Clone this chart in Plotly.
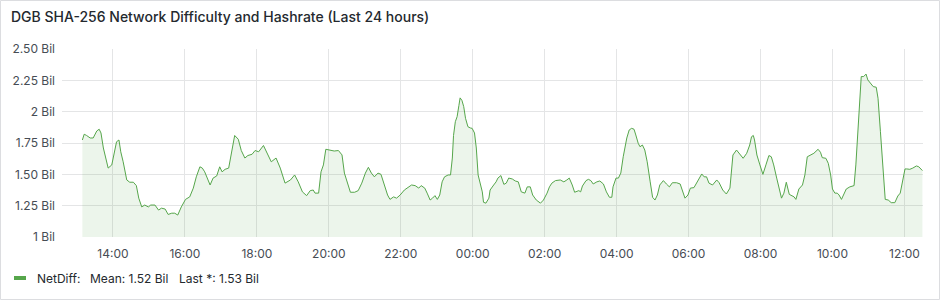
import plotly.graph_objects as go
import pandas as pd

# ---------------- data ----------------
times = [
"13:09","13:12","13:16","13:22","13:27","13:33","13:37","13:40","13:44","13:48","13:52","13:58",
"14:02","14:06","14:10","14:13","14:17","14:23","14:28","14:34","14:39","14:43","14:48","14:53","14:59",
"15:03","15:10","15:16","15:21","15:27","15:32","15:38","15:43","15:48","15:54",
"16:01","16:08","16:14","16:19","16:25","16:29","16:33","16:42","16:47","16:53","16:58",
"17:02","17:07","17:13","17:18","17:23","17:29","17:34","17:40","17:45","17:52","17:57",
"18:03","18:07","18:11","18:17","18:24","18:32","18:39","18:47","18:56",
"19:03","19:09","19:16","19:23","19:29","19:34","19:37","19:43","19:47","19:51","19:55",
"20:02","20:09","20:16","20:22","20:26","20:30","20:36","20:43","20:49","20:55",
"21:01","21:06","21:11","21:16","21:22","21:27","21:33","21:38","21:42","21:48","21:53","21:59",
"22:06","22:13","22:18","22:24","22:30","22:34","22:40","22:44","22:49","22:53","22:57",
"23:01","23:05","23:09","23:13","23:19","23:23","23:26","23:28","23:31","23:34","23:37","23:39",
"23:42","23:45","23:48","23:52","23:56","23:59",
"00:03","00:06","00:09","00:13","00:16","00:18","00:22","00:27","00:29","00:35","00:39","00:42",
"00:47","00:52","00:56",
"01:00","01:06","01:11","01:16","01:21","01:27","01:31","01:36","01:40","01:46","01:53","01:58",
"02:04","02:08","02:12","02:18","02:26","02:32","02:37","02:41","02:46","02:50","02:57",
"03:00","03:03","03:09","03:13","03:17","03:21","03:27","03:32","03:38","03:43","03:48","03:52",
"03:54","03:59",
"04:03","04:07","04:11","04:17","04:21","04:25","04:29","04:32","04:36","04:39","04:43","04:47",
"04:51","04:56",
"05:00","05:04","05:08","05:12","05:18","05:23","05:28","05:33","05:40","05:46","05:50","05:54","05:59",
"06:03","06:09","06:14","06:22","06:26","06:30","06:34","06:40","06:47","06:51","06:57",
"07:03","07:09","07:14","07:20","07:24","07:31","07:37","07:42","07:45","07:48","07:50","07:54","07:59",
"08:04","08:09","08:14","08:18","08:22","08:27","08:29","08:35","08:39","08:43","08:48","08:52",
"08:56","08:59",
"09:04","09:10","09:14","09:18","09:22","09:29","09:36","09:40","09:43","09:49","09:53","09:57",
"10:00","10:04","10:08","10:11","10:15","10:19","10:23","10:29","10:36","10:39","10:43","10:46",
"10:48","10:52","10:56","10:59",
"11:03","11:08","11:13","11:16","11:20","11:24","11:28","11:33","11:38","11:44","11:49","11:53","11:57",
"12:01","12:04","12:09","12:14","12:20","12:24","12:30",
]

net_diff_bil = [
1.774,1.82,1.81,1.79,1.79,1.846,1.86,1.83,1.71,1.64,1.55,1.575,
1.67,1.76,1.774,1.68,1.60,1.455,1.437,1.437,1.41,1.31,1.24,1.255,1.24,
1.255,1.255,1.215,1.23,1.223,1.18,1.19,1.19,1.175,1.24,
1.30,1.32,1.39,1.48,1.56,1.55,1.52,1.415,1.47,1.487,1.56,
1.52,1.54,1.55,1.67,1.81,1.78,1.69,1.63,1.65,1.66,1.69,
1.68,1.71,1.73,1.67,1.60,1.63,1.55,1.43,1.455,
1.495,1.44,1.36,1.33,1.37,1.375,1.35,1.35,1.52,1.575,1.70,
1.69,1.686,1.69,1.655,1.51,1.455,1.357,1.357,1.37,1.43,
1.51,1.556,1.51,1.48,1.51,1.50,1.415,1.335,1.30,1.32,1.31,1.335,
1.375,1.40,1.415,1.41,1.39,1.41,1.39,1.35,1.295,1.31,1.33,
1.30,1.335,1.44,1.48,1.495,1.495,1.63,1.81,1.92,1.96,2.05,2.11,
2.09,2.04,1.947,1.88,1.87,1.867,
1.83,1.71,1.495,1.415,1.36,1.277,1.27,1.31,1.375,1.415,1.44,1.47,
1.49,1.42,1.43,
1.47,1.463,1.447,1.44,1.36,1.35,1.40,1.40,1.335,1.295,1.27,1.295,
1.35,1.40,1.43,1.45,1.455,1.44,1.455,1.47,1.415,1.357,1.37,
1.36,1.407,1.45,1.46,1.45,1.423,1.44,1.447,1.423,1.36,1.317,1.317,
1.40,1.47,
1.47,1.51,1.64,1.79,1.854,1.867,1.86,1.814,1.748,1.72,1.734,1.694,
1.60,1.44,
1.317,1.295,1.335,1.415,1.45,1.423,1.40,1.433,1.433,1.423,1.36,1.31,1.335,
1.39,1.394,1.44,1.503,1.48,1.48,1.43,1.415,1.455,1.433,1.375,
1.343,1.39,1.654,1.694,1.668,1.628,1.668,1.734,1.80,1.81,1.774,1.654,1.575,
1.50,1.575,1.65,1.64,1.575,1.47,1.43,1.31,1.35,1.437,1.34,1.327,
1.32,1.30,
1.383,1.415,1.495,1.64,1.65,1.668,1.70,1.676,1.633,1.628,1.588,1.495,
1.383,1.35,1.35,1.335,1.30,1.34,1.383,1.40,1.41,1.575,1.894,2.147,
2.28,2.28,2.30,2.253,
2.227,2.20,2.195,2.107,1.84,1.575,1.30,1.295,1.274,1.274,1.327,1.35,1.455,
1.543,1.543,1.54,1.55,1.567,1.56,1.53,
]

y_tick_vals = [1, 1.25, 1.5, 1.75, 2, 2.25, 2.5]
y_tick_text = ["1 Bil", "1.25 Bil", "1.50 Bil", "1.75 Bil", "2 Bil", "2.25 Bil", "2.50 Bil"]

title_text = "DGB SHA-256 Network Difficulty and Hashrate (Last 24 hours)"
legend_name = "NetDiff:"
legend_mean = "Mean: 1.52 Bil"
legend_last = "Last *: 1.53 Bil"

start_day = pd.Timestamp("2024-06-01")
x_range = ["2024-06-01 12:35", "2024-06-02 12:31"]

# build timestamps (roll over midnight)
stamps = []
day = 0
prev = None
for t in times:
    h, m = map(int, t.split(":"))
    mins = h * 60 + m
    if prev is not None and mins < prev:
        day += 1
    prev = mins
    stamps.append(start_day + pd.Timedelta(days=day, minutes=mins))

# ---------------- styling ----------------
W, H = 940, 300
L, R, T, B = 62, 17, 49, 63
PW, PH = W - L - R, H - T - B
FONT = "Inter, Roboto, sans-serif"
GREEN = "#56A64B"
TEXT = "#24292e"
TICK = "#464c54"
GRID = "#e4e5e6"


def px_x(px):
    return (px - L) / PW


def px_y(py):
    return (H - B - py) / PH


fig = go.Figure()
fig.add_trace(go.Scatter(
    x=stamps, y=net_diff_bil, mode="lines",
    line=dict(color=GREEN, width=1),
    fill="tozeroy", fillcolor="rgba(86,166,75,0.11)",
    showlegend=False, hoverinfo="skip",
))

fig.update_layout(
    width=W, height=H, autosize=False,
    margin=dict(l=L, r=R, t=T, b=B, pad=0),
    paper_bgcolor="white", plot_bgcolor="white",
    font=dict(family=FONT, size=12, color=TICK),
    showlegend=False,
    xaxis=dict(
        type="date", range=x_range,
        tickformat="%H:%M", dtick=2 * 3600 * 1000, tick0="2024-06-01 00:00",
        showgrid=True, gridcolor=GRID, gridwidth=1,
        zeroline=False, showline=False, ticks="",
        ticklabelstandoff=8,
        tickfont=dict(family=FONT, size=12, color=TICK),
        fixedrange=True,
    ),
    yaxis=dict(
        range=[1, 2.5], tickvals=y_tick_vals, ticktext=y_tick_text,
        showgrid=True, gridcolor=GRID, gridwidth=1,
        zeroline=False, showline=False, ticks="",
        ticklabelstandoff=6,
        tickfont=dict(family=FONT, size=12, color=TICK),
        fixedrange=True,
    ),
)

# panel border
fig.add_shape(type="rect", xref="paper", yref="paper",
              x0=px_x(0.5), x1=px_x(W - 0.5), y0=px_y(H - 0.5), y1=px_y(0.5),
              line=dict(color="#dcdde0", width=1), layer="below")

# title
fig.add_annotation(xref="paper", yref="paper", x=px_x(9), y=px_y(17),
                   xanchor="left", yanchor="middle", showarrow=False,
                   text=title_text,
                   font=dict(family=FONT, size=14, color=TEXT, weight=500))

# legend
fig.add_shape(type="line", xref="paper", yref="paper",
              x0=px_x(14), x1=px_x(26), y0=px_y(278), y1=px_y(278),
              line=dict(color=GREEN, width=4))
for px, txt in [(35, legend_name), (87.5, legend_mean), (176.5, legend_last)]:
    fig.add_annotation(xref="paper", yref="paper", x=px_x(px), y=px_y(278),
                       xanchor="left", yanchor="middle", showarrow=False,
                       text=txt, font=dict(family=FONT, size=12, color=TEXT))

fig.write_html("out.html", config={"displayModeBar": False})
